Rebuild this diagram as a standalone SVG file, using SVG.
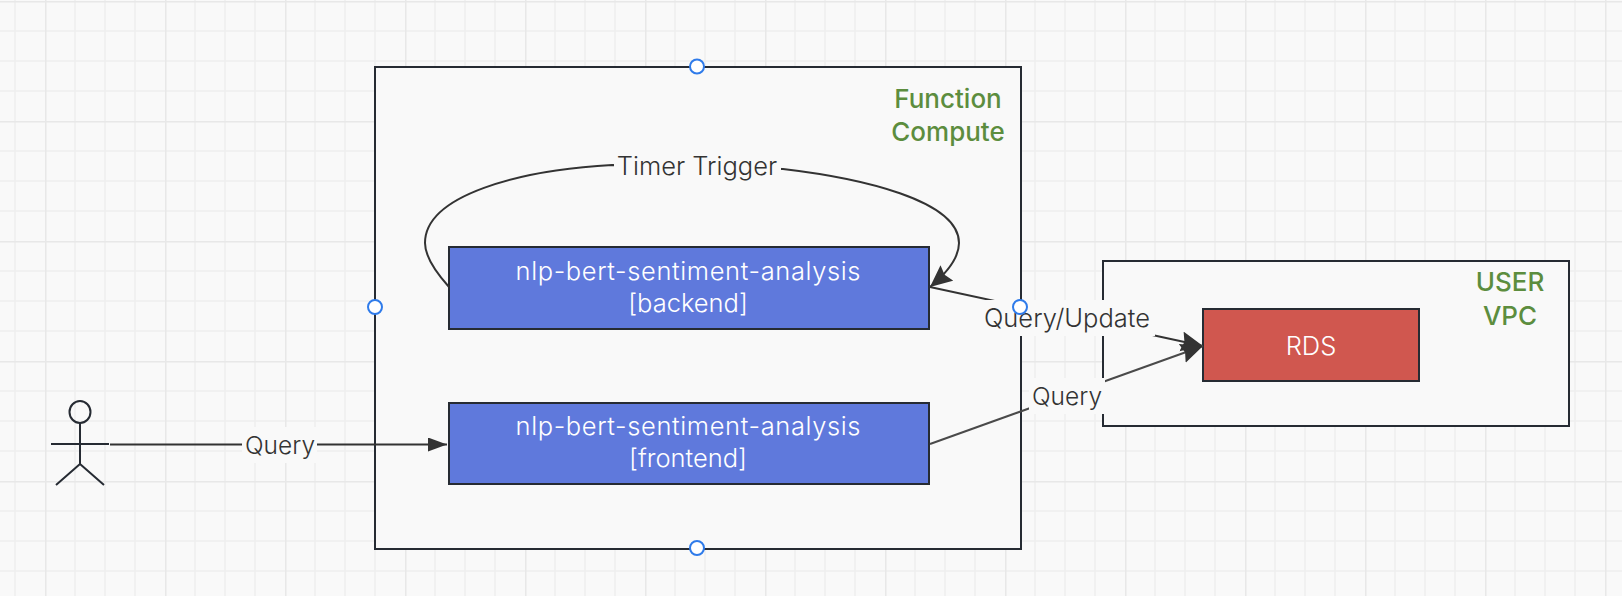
<svg xmlns="http://www.w3.org/2000/svg" width="1622" height="596" viewBox="0 0 1622 596">
<style>
.frame{fill:#f9f9f9;stroke:#262b33;stroke-width:2}
.svc{fill:#5f79dc;stroke:#262b33;stroke-width:2}
.db{fill:#d0574f;stroke:#262b33;stroke-width:2}
.t{font-family:"Inter","Noto Sans","Liberation Sans",sans-serif;text-anchor:middle}
.green{font-size:26px;font-weight:500;fill:#5c8d3e}
.white{font-size:25.500px;font-weight:300;fill:#ffffff}
.lab{font-size:25.500px;font-weight:300;fill:#333333}
.bg{fill:#f9f9f9}
.c{fill:none;stroke:#333333;stroke-width:2}
.handle{fill:#ffffff;stroke:#2f7bea;stroke-width:2}
.actor{fill:none;stroke:#262b33;stroke-width:2}
</style>
<defs>
<pattern id="grid" patternUnits="userSpaceOnUse" x="45" y="1" width="120" height="120">
<path d="M30 0V120M60 0V120M90 0V120M0 30H120M0 60H120M0 90H120" stroke="#eeeeee" stroke-width="1.5" fill="none"/>
<path d="M0 0V120M0 0H120" stroke="#e8e8e8" stroke-width="3" fill="none"/>
</pattern>
<marker id="big" markerUnits="userSpaceOnUse" markerWidth="24" markerHeight="24" refX="22" refY="10" orient="auto"><path d="M0 0L22 10L0 20L3 10Z" fill="#333333"/></marker>
<marker id="small" markerUnits="userSpaceOnUse" markerWidth="22" markerHeight="18" refX="19" refY="7" orient="auto"><path d="M0 0L19 7L0 14Z" fill="#333333"/></marker>
</defs>
<rect width="1622" height="596" fill="#f9f9f9"/>
<rect width="1622" height="596" fill="url(#grid)"/>
<g id="function-compute">
<rect class="frame" x="375" y="67" width="646" height="482"/>
<text class="t green" x="948" y="108">Function</text>
<text class="t green" x="948" y="141">Compute</text>
</g>
<g id="user-vpc">
<rect class="frame" x="1103" y="261" width="466" height="165"/>
<text class="t green" x="1510" y="291">USER</text>
<text class="t green" x="1510" y="325">VPC</text>
</g>
<g id="backend">
<rect class="svc" x="449" y="247" width="480" height="82"/>
<text class="t white" x="688" y="280" textLength="345" lengthAdjust="spacing">nlp-bert-sentiment-analysis</text>
<text class="t white" x="688" y="312">[backend]</text>
</g>
<g id="frontend">
<rect class="svc" x="449" y="403" width="480" height="81"/>
<text class="t white" x="688" y="435" textLength="345" lengthAdjust="spacing">nlp-bert-sentiment-analysis</text>
<text class="t white" x="688" y="467">[frontend]</text>
</g>
<g id="rds">
<rect class="db" x="1203" y="309" width="216" height="72"/>
<text class="t white" x="1311" y="355">RDS</text>
</g>
<g id="user">
<ellipse class="actor" cx="80" cy="412" rx="10.500" ry="11"/>
<path class="actor" d="M80 423V464M51 444H109M80 464L56 485M80 464L104 485"/>
</g>
<g id="connectors">
<path class="c" d="M110 444.500H447" marker-end="url(#small)"/>
<path class="c" d="M449 287C432 268 425 255 425 243C425 195 520 170 612 165L783 169C860 178 959 200 959 243C959 258 948 272 930 287" marker-end="url(#big)"/>
<path class="c" d="M930 287L1203 346" marker-end="url(#big)"/>
<path class="c" style="stroke:#4a4a4a" d="M930 444L1203 346" marker-end="url(#big)"/>
<rect class="bg" x="242" y="427" width="75" height="36"/>
<text class="t lab" x="280" y="454" style="font-size:24.500px">Query</text>
<rect class="bg" x="614" y="148" width="167" height="36"/>
<text class="t lab" x="697" y="175">Timer Trigger</text>
<rect class="bg" x="980" y="300" width="175" height="36"/>
<text class="t lab" x="1067" y="327">Query/Update</text>
<rect class="bg" x="1029" y="378" width="76" height="36"/>
<text class="t lab" x="1067" y="405" style="font-size:24.500px">Query</text>
</g>
<g id="selection-handles">
<circle class="handle" cx="697" cy="66.500" r="7"/>
<circle class="handle" cx="697" cy="548" r="7"/>
<circle class="handle" cx="375" cy="307" r="7"/>
<circle class="handle" cx="1020" cy="307" r="7"/>
</g>
</svg>
